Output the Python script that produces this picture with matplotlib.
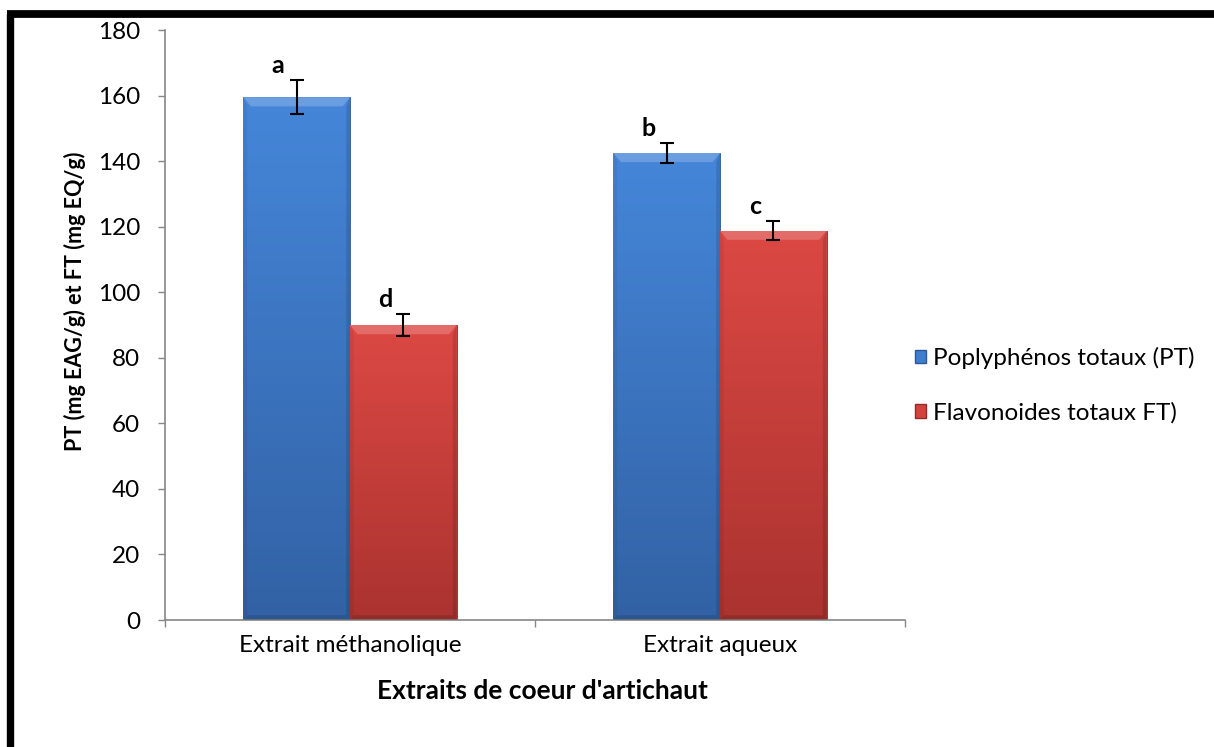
import numpy as np
import matplotlib
matplotlib.use("Agg")
import matplotlib.pyplot as plt
from matplotlib.lines import Line2D
from matplotlib.patches import Patch
from matplotlib.colors import LinearSegmentedColormap

plt.rcParams['font.family'] = ['Lato', 'DejaVu Sans']

categories = ["Extrait méthanolique", "Extrait aqueux"]
series_names = ["Poplyphénos totaux (PT)", "Flavonoides totaux FT)"]
pt_values = [159.5, 142.5]
ft_values = [90.0, 118.8]
pt_errors = [5.2, 3.0]
ft_errors = [3.5, 2.8]
pt_letters = ["a", "b"]
ft_letters = ["d", "c"]
y_ticks = [0, 20, 40, 60, 80, 100, 120, 140, 160, 180]

fig = plt.figure(figsize=(12.14, 7.47), dpi=100)
ax = fig.add_axes([0.1359, 0.170, 0.6096, 0.7898])

x = np.arange(len(categories))
width = 0.288
grey = "#868686"

styles = [
    dict(face="#3f7dcf", top="#4586d9", bottom="#3262a5", edge="#2c5896"),
    dict(face="#d4423f", top="#dc4844", bottom="#ab3330", edge="#922a28"),
]

def gradient_bar(ax, rect, top, bottom):
    x0, y0 = rect.get_x(), rect.get_y()
    w, h = rect.get_width(), rect.get_height()
    cmap = LinearSegmentedColormap.from_list("g", [bottom, top])
    grad = np.linspace(0, 1, 64).reshape(-1, 1)
    im = ax.imshow(grad, cmap=cmap, aspect="auto", origin="lower",
                   extent=(x0, x0 + w, y0, y0 + h), zorder=2)
    im.set_clip_path(rect)
    bev = 2.8
    # bevel highlight along the top edge
    ax.fill([x0, x0 + w, x0 + w * 0.93, x0 + w * 0.07],
            [y0 + h, y0 + h, y0 + h - bev, y0 + h - bev],
            color="white", alpha=0.2, lw=0, zorder=3)
    # shaded sides and foot
    ax.fill([x0 + w, x0 + w, x0 + w * 0.965, x0 + w * 0.965],
            [y0 + h, y0, y0 + 1.5, y0 + h - bev],
            color="black", alpha=0.12, lw=0, zorder=3)
    ax.fill([x0, x0, x0 + w * 0.035, x0 + w * 0.035],
            [y0 + h, y0, y0 + 1.5, y0 + h - bev],
            color="black", alpha=0.06, lw=0, zorder=3)
    ax.fill([x0, x0 + w, x0 + w * 0.965, x0 + w * 0.035],
            [y0, y0, y0 + 1.5, y0 + 1.5],
            color="black", alpha=0.12, lw=0, zorder=3)

all_vals = [pt_values, ft_values]
all_errs = [pt_errors, ft_errors]
all_letters = [pt_letters, ft_letters]
offsets = [-width / 2, width / 2]

for vals, errs, letters, off, st in zip(all_vals, all_errs, all_letters, offsets, styles):
    bars = ax.bar(x + off, vals, width, color=st["face"], edgecolor=st["edge"],
                  linewidth=0.6, zorder=2)
    for rect in bars:
        gradient_bar(ax, rect, st["top"], st["bottom"])
    ax.errorbar(x + off, vals, yerr=errs, fmt="none", ecolor="black",
                elinewidth=1.5, capsize=4.7, capthick=1.5, zorder=5)
    for xi, v, e, lab in zip(x + off, vals, errs, letters):
        ax.text(xi - 0.05, v + e + 0.9, lab, ha="center", va="bottom",
                fontsize=18, fontweight="bold", zorder=6)

ax.set_xlim(-0.5, len(categories) - 0.5)
ax.set_ylim(0, 180)
ax.set_yticks(y_ticks)
ax.set_yticklabels([str(t) for t in y_ticks], fontsize=17.5)
ax.set_xticks(x)
ax.set_xticklabels(categories, fontsize=17.5)
ax.set_xticks([-0.5, 0.5, 1.5], minor=True)
ax.tick_params(axis="x", which="major", length=0, pad=11)
ax.tick_params(axis="x", which="minor", length=5, color=grey, width=1)
ax.tick_params(axis="y", length=5, color=grey, width=1, pad=13)

for s in ["top", "right"]:
    ax.spines[s].set_visible(False)
ax.spines["left"].set_color(grey)
ax.spines["bottom"].set_color(grey)
ax.spines["left"].set_linewidth(1.2)
ax.spines["bottom"].set_linewidth(1.2)

ax.set_xlabel("Extraits de coeur d'artichaut", fontsize=19, fontweight="bold")
ax.xaxis.set_label_coords(0.51, -0.1, transform=ax.transAxes)
ax.set_ylabel("PT (mg EAG/g) et FT (mg EQ/g)", fontsize=15.5, fontweight="bold")
ax.yaxis.set_label_coords(-0.107, 0.541, transform=ax.transAxes)

handles = [Patch(facecolor=styles[0]["face"], edgecolor=styles[0]["edge"]),
           Patch(facecolor=styles[1]["face"], edgecolor=styles[1]["edge"])]
fig.legend(handles, series_names, loc="center left", bbox_to_anchor=(0.7356, 0.484),
           frameon=False, fontsize=17.5, handlelength=0.45, handleheight=0.45,
           handletextpad=0.3, labelspacing=1.35)

# heavy black frame on the left and top
fig.add_artist(Line2D([0.0086, 0.0086], [0.0, 0.981], color="black", lw=5.3,
                      transform=fig.transFigure, solid_capstyle="butt"))
fig.add_artist(Line2D([0.0058, 1.0], [0.981, 0.981], color="black", lw=5.6,
                      transform=fig.transFigure, solid_capstyle="butt"))

fig.savefig("out.png", dpi=100)
